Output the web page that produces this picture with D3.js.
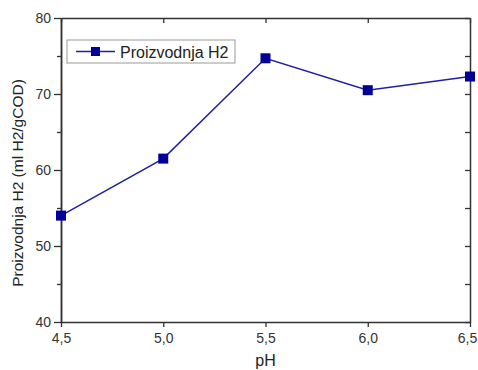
<!DOCTYPE html>
<html>
<head>
<meta charset="utf-8">
<script src="https://cdn.jsdelivr.net/npm/d3@7"></script>
<style>
  html, body { margin: 0; padding: 0; background: #fff; }
  svg { display: block; font-family: "Liberation Sans", Arial, sans-serif; }
</style>
</head>
<body>
<svg id="chart" width="478" height="370"></svg>
<script>
// Hydrogen production versus pH
const phValues = [4.5, 5.0, 5.5, 6.0, 6.5];
const h2Yield = [54.0, 61.5, 74.7, 70.5, 72.3];
const xTicks = [4.5, 5.0, 5.5, 6.0, 6.5];
const yTicks = [40, 50, 60, 70, 80];
const yMinorTicks = [45, 55, 65, 75];
const seriesName = "Proizvodnja H2";
const xTitle = "pH";
const yTitle = "Proizvodnja H2 (ml H2/gCOD)";

const svg = d3.select("#chart");
const plotL = 61, plotR = 470, plotT = 18, plotB = 322;

const x = d3.scaleLinear().domain([4.5, 6.5]).range([plotL, plotR]);
const y = d3.scaleLinear().domain([40, 80]).range([plotB, plotT]);

const axisColor = "#333";
const fmt = d => d3.format(".1f")(d).replace(".", ",");

// frame axes
function styleAxis(g) {
  g.select(".domain").attr("stroke", axisColor).attr("stroke-width", 1.5);
  g.selectAll(".tick line").attr("stroke", axisColor).attr("stroke-width", 1.3);
  g.selectAll(".tick text").attr("fill", "#333").attr("font-size", 14);
}

// bottom
const xAxisG = svg.append("g").attr("transform", `translate(0,${plotB})`)
  .call(d3.axisBottom(x).tickValues(xTicks).tickFormat(fmt).tickSize(5).tickSizeOuter(0).tickPadding(6))
  .call(styleAxis);
// keep the last label inside the page edge
xAxisG.selectAll(".tick text").filter(d => d === xTicks[xTicks.length - 1]).attr("dx", -3);
// top
svg.append("g").attr("transform", `translate(0,${plotT})`)
  .call(d3.axisTop(x).tickValues(xTicks).tickFormat("").tickSize(-5).tickSizeOuter(0))
  .call(styleAxis);
// left major
svg.append("g").attr("transform", `translate(${plotL},0)`)
  .call(d3.axisLeft(y).tickValues(yTicks).tickSize(7).tickSizeOuter(0).tickPadding(3))
  .call(styleAxis);
// left minor
svg.append("g").attr("transform", `translate(${plotL},0)`)
  .call(d3.axisLeft(y).tickValues(yMinorTicks).tickFormat("").tickSize(4).tickSizeOuter(0))
  .call(styleAxis);
// right major + minor
svg.append("g").attr("transform", `translate(${plotR},0)`)
  .call(d3.axisRight(y).tickValues(yTicks.concat(yMinorTicks)).tickFormat("").tickSize(-5).tickSizeOuter(0))
  .call(styleAxis);

// axis titles
svg.append("text")
  .attr("x", (plotL + plotR) / 2).attr("y", 366)
  .attr("text-anchor", "middle").attr("font-size", 16).attr("fill", "#222")
  .text(xTitle);
svg.append("text")
  .attr("transform", `translate(23,${(plotT + plotB) / 2 + 13}) rotate(-90)`)
  .attr("text-anchor", "middle").attr("font-size", 15.5).attr("fill", "#222")
  .text(yTitle);

// series
const lineColor = "#1f1fa8";
const markerColor = "#000099";
const pts = phValues.map((v, i) => [v, h2Yield[i]]);
svg.append("path")
  .datum(pts)
  .attr("fill", "none").attr("stroke", lineColor).attr("stroke-width", 1.5)
  .attr("d", d3.line().x(d => x(d[0])).y(d => y(d[1])));
svg.selectAll("rect.pt").data(pts).join("rect")
  .attr("class", "pt")
  .attr("x", d => x(d[0]) - 5).attr("y", d => y(d[1]) - 5)
  .attr("width", 10).attr("height", 10)
  .attr("fill", markerColor);

// legend
const lg = svg.append("g").attr("transform", "translate(67,40)");
lg.append("rect").attr("width", 168).attr("height", 23)
  .attr("fill", "#fff").attr("stroke", "#999").attr("stroke-width", 1);
lg.append("line").attr("x1", 9).attr("x2", 48).attr("y1", 11.5).attr("y2", 11.5)
  .attr("stroke", lineColor).attr("stroke-width", 1.5);
lg.append("rect").attr("x", 24).attr("y", 7).attr("width", 9).attr("height", 9).attr("fill", markerColor);
lg.append("text").attr("x", 53).attr("y", 17.5).attr("font-size", 16).attr("fill", "#222")
  .text(seriesName);
</script>
</body>
</html>
